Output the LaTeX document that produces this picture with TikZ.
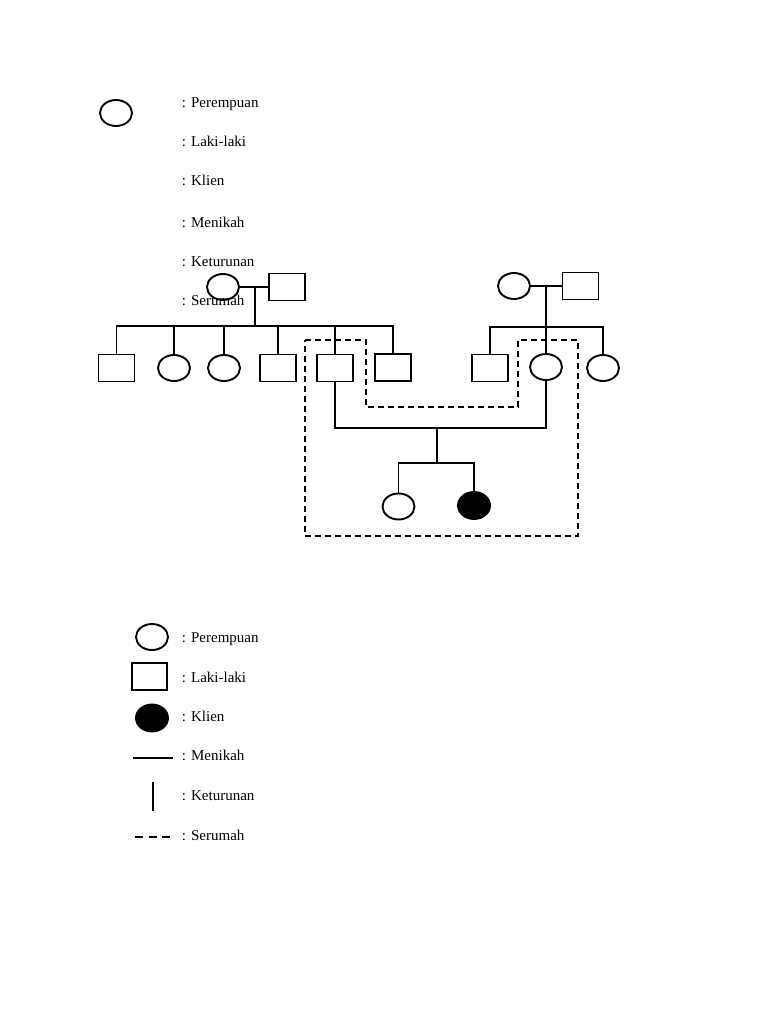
\documentclass[tikz,border=0pt]{standalone}
\usepackage{fontspec}
\setmainfont{Liberation Serif}
\usetikzlibrary{shapes.geometric}
\begin{document}
\begin{tikzpicture}[x=1pt, y=-1pt, line width=1.9pt,
  fem/.style={draw, ellipse, minimum width=32pt, minimum height=26pt, inner sep=0pt},
  mal/.style={draw, rectangle, minimum width=36pt, minimum height=27pt, inner sep=0pt},
  klien/.style={fem, fill=black, minimum height=27pt},
  lbl/.style={anchor=base west, inner sep=0pt, font=\fontsize{15}{18}\selectfont},
  serumah/.style={line width=1.6pt, dash pattern=on 6pt off 4pt}]
  \useasboundingbox (0,0) rectangle (768,1024);

  % legenda atas
  \node[fem] (lgA) at (116,113) {};
  \node[lbl] (tA1) at (181,108) {: Perempuan};
  \node[lbl] (tA2) at (181,147) {: Laki-laki};
  \node[lbl] (tA3) at (181,186) {: Klien};
  \node[lbl] (tA4) at (181,227) {: Menikah};
  \node[lbl] (tA5) at (181,266) {: Keturunan};
  \node[lbl] (tA6) at (181,305) {: Serumah};

  % keluarga kiri
  \node[fem] (gmL) at (223,287) {};
  \node[mal] (gpL) at (287,287) {};
  \coordinate (mL) at (255,287);
  \coordinate (barL) at (255,326);
  \draw (gmL) -- (gpL);
  \draw (mL) -- (barL);
  \node[mal] (kL1) at (116.5,368) {};
  \node[fem] (kL2) at (174,368) {};
  \node[fem] (kL3) at (224,368) {};
  \node[mal] (kL4) at (278,368) {};
  \node[mal] (kL5) at (335,368) {};
  \node[mal] (kL6) at (393,367.5) {};
  \draw (kL1.north) |- (barL) -| (kL6.north);
  \foreach \k in {kL2,kL3,kL4,kL5}
    \draw (\k.north) -- (\k.north |- barL);

  % keluarga kanan
  \node[fem] (gmR) at (514,286) {};
  \node[mal] (gpR) at (580.5,286) {};
  \coordinate (mR) at (546,287);
  \coordinate (barR) at (546,327);
  \draw (gmR) -- (gpR);
  \draw (mR) -- (barR);
  \node[mal] (kR1) at (490,368) {};
  \node[fem] (kR2) at (546,367) {};
  \node[fem] (kR3) at (603,368) {};
  \draw (kR1.north) |- (barR) -| (kR3.north);
  \draw (kR2.north) -- (barR);

  % keluarga klien
  \coordinate (mC) at (437,428);
  \coordinate (barC) at (437,463);
  \draw[line width=1.4pt] (kL5.south) |- (mC) -| (kR2.south);
  \draw (mC) -- (barC);
  \node[fem] (gc1) at (398.5,506.5) {};
  \node[klien] (gc2) at (474,505.5) {};
  \draw[line width=1.4pt] (gc1.north) |- (barC) -| (gc2.north);

  % serumah
  \draw[serumah] (305,340) -- (366,340) -- (366,407) -- (518,407)
    -- (518,340) -- (578,340) -- (578,536) -- (305,536) -- cycle;

  % legenda bawah
  \node[fem] (lgF) at (152,637) {};
  \node[mal, minimum width=35pt] (lgM) at (149.5,676.5) {};
  \node[klien] (lgK) at (152,718) {};
  \coordinate (lgN1) at (133,758);
  \coordinate (lgN2) at (173,758);
  \coordinate (lgT1) at (153,782);
  \coordinate (lgT2) at (153,811);
  \coordinate (lgS1) at (135,837);
  \coordinate (lgS2) at (170,837);
  \draw (lgN1) -- (lgN2);
  \draw (lgT1) -- (lgT2);
  \draw[dash pattern=on 8pt off 5.5pt] (lgS1) -- (lgS2);
  \node[lbl] (tB1) at (181,642) {: Perempuan};
  \node[lbl] (tB2) at (181,682) {: Laki-laki};
  \node[lbl] (tB3) at (181,721) {: Klien};
  \node[lbl] (tB4) at (181,760) {: Menikah};
  \node[lbl] (tB5) at (181,800) {: Keturunan};
  \node[lbl] (tB6) at (181,840) {: Serumah};
\end{tikzpicture}
\end{document}
